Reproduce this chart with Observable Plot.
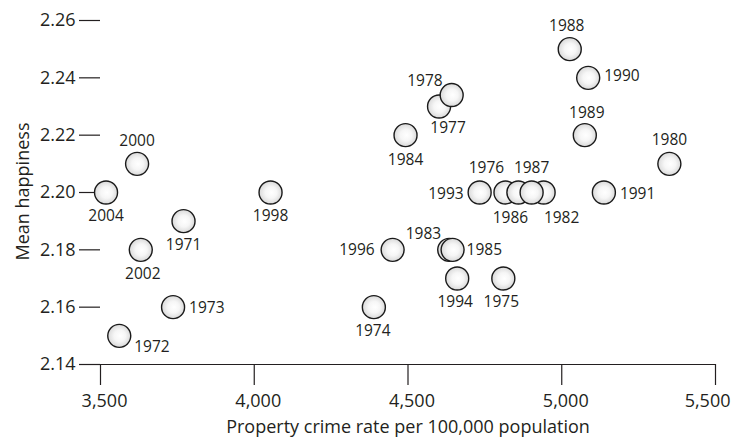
<!DOCTYPE html>
<html><head><meta charset="utf-8">
<script src="https://cdn.jsdelivr.net/npm/d3@7"></script>
<script src="https://cdn.jsdelivr.net/npm/@observablehq/plot@0.6"></script>
<style>
html,body{margin:0;padding:0;background:#fff;}
</style>
</head><body><div id="chart"></div>
<script>
// ---- data ----
const years      = [1971, 1972, 1973, 1974, 1975, 1976, 1977, 1978, 1980, 1982, 1983, 1984, 1985, 1986, 1987, 1988, 1989, 1990, 1991, 1993, 1994, 1996, 1998, 2000, 2002, 2004];
const crimeRate  = [3770, 3561, 3736, 4389, 4810, 4817, 4601, 4642, 5350, 4941, 4634, 4492, 4645, 4859, 4902, 5026, 5075, 5086, 5137, 4733, 4660, 4450, 4053, 3619, 3631, 3518];
const happiness  = [2.19, 2.15, 2.16, 2.16, 2.17, 2.20, 2.23, 2.234, 2.21, 2.20, 2.18, 2.22, 2.18, 2.20, 2.20, 2.25, 2.22, 2.24, 2.20, 2.20, 2.17, 2.18, 2.20, 2.21, 2.18, 2.20];
const xTicks = [3500, 4000, 4500, 5000, 5500];
const yTicks = [2.14, 2.16, 2.18, 2.20, 2.22, 2.24, 2.26];
const xTitle = "Property crime rate per 100,000 population";
const yTitle = "Mean happiness";

// ---- label placement (hand-placed, as in the original) : [dx, dy, anchor] ----
const labelLayout = [
  [0, 24, "middle"],   // 1971
  [15, 11, "start"],   // 1972
  [16, 1, "start"],    // 1973
  [-1, 24, "middle"],  // 1974
  [-2, 24, "middle"],  // 1975
  [-19, -24, "middle"],// 1976
  [9, 22, "middle"],   // 1977
  [-9, -14, "end"],    // 1978
  [0, -24, "middle"],  // 1980
  [18, 26, "middle"],  // 1982
  [-8, -16, "end"],    // 1983
  [0, 25, "middle"],   // 1984
  [14, 0, "start"],    // 1985
  [-8, 26, "middle"],  // 1986
  [0, -24, "middle"],  // 1987
  [-3, -23, "middle"], // 1988
  [2, -22, "middle"],  // 1989
  [16, -2, "start"],   // 1990
  [16, 2, "start"],    // 1991
  [-16, 2, "end"],     // 1993
  [-2, 24, "middle"],  // 1994
  [-18, 0, "end"],     // 1996
  [0, 24, "middle"],   // 1998
  [0, -23, "middle"],  // 2000
  [2, 24, "middle"],   // 2002
  [0, 24, "middle"]    // 2004
];

const data = years.map((year, i) => ({year, crime: crimeRate[i], happy: happiness[i]}));
const ink = "#231f20";
const fmtX = d3.format(",");

const labelMarks = data.map((d, i) => Plot.text([d], {
  x: "crime", y: "happy", text: r => String(r.year),
  dx: labelLayout[i][0], dy: labelLayout[i][1], textAnchor: labelLayout[i][2],
  fontSize: 15.5, fill: ink
}));

const chart = Plot.plot({
  width: 731, height: 441,
  marginLeft: 100, marginRight: 16, marginTop: 20, marginBottom: 77,
  style: {fontFamily: "'Open Sans', sans-serif", color: ink, background: "#fff", overflow: "visible"},
  x: {domain: [3500, 5500]},
  y: {domain: [2.14, 2.26]},
  marks: [
    Plot.axisY(yTicks, {tickSize: 21, tickPadding: 4, tickFormat: d3.format(".2f"), fontSize: 18, label: null, strokeWidth: 1.2}),
    Plot.axisX(xTicks, {tickSize: 21, tickFormat: () => "", label: null, strokeWidth: 1.2}),
    Plot.text(xTicks.slice(0, -1), {x: d => d, text: d => fmtX(d), frameAnchor: "bottom", lineAnchor: "middle", textAnchor: "middle", dx: 4, dy: 37, fontSize: 18, fill: ink}),
    Plot.text(xTicks.slice(-1), {x: d => d, text: d => fmtX(d), frameAnchor: "bottom", lineAnchor: "middle", textAnchor: "end", dx: 15, dy: 37, fontSize: 18, fill: ink}),
    Plot.ruleY([2.14], {stroke: ink, strokeWidth: 1.2}),
    Plot.dot(data, {x: "crime", y: "happy", r: 11.5, fill: "url(#ball)", stroke: "#1a1a1a", strokeWidth: 1.4}),
    ...labelMarks,
    Plot.text([xTitle], {frameAnchor: "bottom", lineAnchor: "middle", textAnchor: "middle", dy: 63, fontSize: 18, fill: ink}),
    Plot.text([yTitle], {frameAnchor: "left", lineAnchor: "middle", textAnchor: "middle", dx: -77, dy: -1, rotate: -90, fontSize: 18, fill: ink})
  ]
});

const ns = "http://www.w3.org/2000/svg";
const defs = document.createElementNS(ns, "defs");
defs.innerHTML = `<radialGradient id="ball" cx="0.5" cy="0.5" r="0.5" fx="0.55" fy="0.5">
  <stop offset="0" stop-color="#ffffff"/>
  <stop offset="0.5" stop-color="#f6f6f6"/>
  <stop offset="1" stop-color="#d9d9d9"/>
</radialGradient>`;
chart.insertBefore(defs, chart.firstChild);
document.getElementById("chart").appendChild(chart);
</script>
</body></html>
